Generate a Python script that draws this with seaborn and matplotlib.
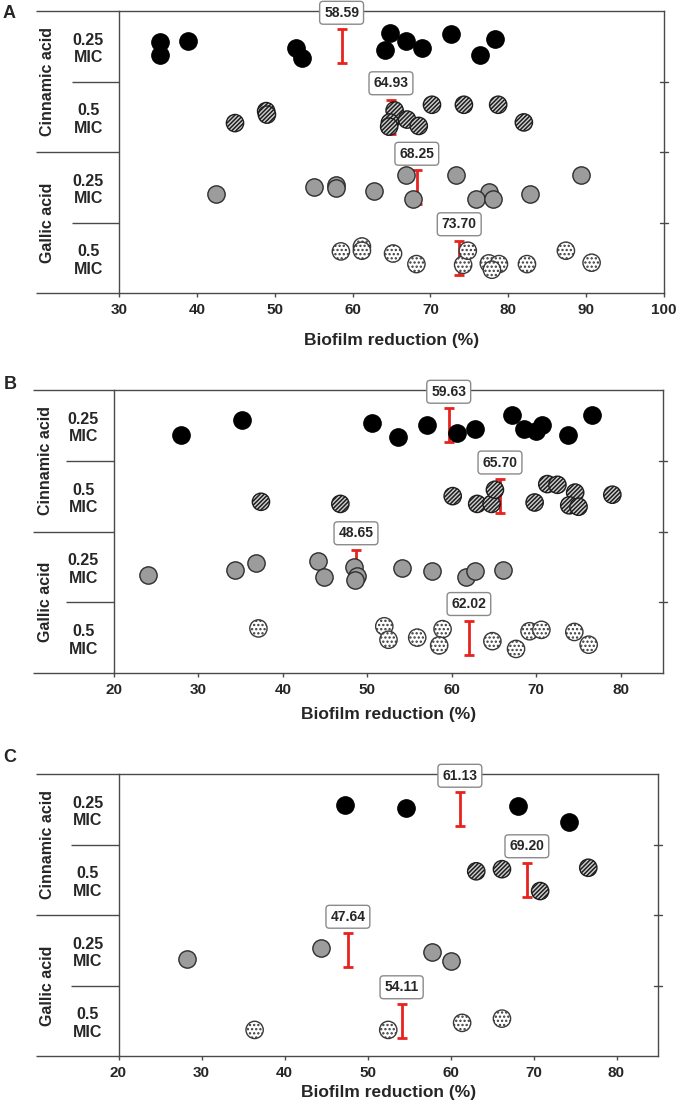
import matplotlib
matplotlib.use("Agg")
import matplotlib.pyplot as plt
from matplotlib import font_manager
import pandas as pd
import seaborn as sns

# ---- data ---------------------------------------------------------------
GROUPS = ["Cinnamic 0.25", "Cinnamic 0.5", "Gallic 0.25", "Gallic 0.5"]
ROW_LABELS = ["0.25\nMIC", "0.5\nMIC", "0.25\nMIC", "0.5\nMIC"]
ACIDS = ["Cinnamic acid", "Gallic acid"]

# panel A
a_cin_025 = [35.3, 35.3, 38.9, 52.7, 53.5, 64.8, 64.2, 66.8, 68.9, 72.6, 76.4, 78.3]
a_cin_025_jit = [-0.06, 0.13, -0.07, 0.03, 0.16, -0.19, 0.05, -0.08, 0.03, -0.17, 0.12, -0.10]
a_cin_05 = [44.9, 48.9, 49.0, 65.4, 64.8, 64.7, 67.0, 68.5, 70.2, 74.3, 78.7, 82.0]
a_cin_05_jit = [0.09, -0.08, -0.03, -0.09, 0.08, 0.14, 0.04, 0.13, -0.17, -0.17, -0.17, 0.08]
a_gal_025 = [42.4, 55.0, 57.9, 57.9, 62.7, 66.8, 67.7, 73.3, 77.5, 75.9, 78.1, 82.8, 89.4]
a_gal_025_jit = [0.10, 0.0, -0.03, 0.01, 0.06, -0.17, 0.16, -0.17, 0.07, 0.17, 0.17, 0.10, -0.18]
a_gal_05 = [58.5, 61.2, 61.2, 65.2, 68.2, 74.2, 74.8, 77.5, 78.8, 77.9, 82.4, 87.4, 90.7]
a_gal_05_jit = [-0.09, -0.16, -0.10, -0.06, 0.09, 0.10, -0.10, 0.08, 0.09, 0.17, 0.09, -0.10, 0.07]
a_means = [58.59, 64.93, 68.25, 73.70]

# panel B
b_cin_025 = [27.9, 35.2, 50.6, 53.6, 57.1, 60.6, 62.8, 67.1, 68.5, 70.0, 70.7, 73.8, 76.6]
b_cin_025_jit = [0.13, -0.07, -0.04, 0.17, 0.0, 0.11, 0.05, -0.14, 0.05, 0.08, -0.01, 0.13, -0.14]
b_cin_05 = [37.4, 46.8, 60.1, 63.0, 64.7, 65.1, 69.8, 71.3, 72.5, 74.6, 73.9, 75.0, 79.0]
b_cin_05_jit = [0.08, 0.11, 0.0, 0.11, 0.11, -0.09, 0.09, -0.17, -0.16, -0.05, 0.13, 0.15, -0.02]
b_gal_025 = [24.0, 34.3, 36.8, 44.1, 44.9, 48.4, 48.8, 48.5, 54.1, 57.6, 61.7, 62.8, 66.1]
b_gal_025_jit = [0.11, 0.05, -0.05, -0.08, 0.15, 0.0, 0.13, 0.18, 0.01, 0.06, 0.14, 0.06, 0.05]
b_gal_05 = [37.1, 52.0, 52.5, 55.9, 58.9, 58.5, 64.8, 67.6, 69.2, 70.6, 74.5, 76.2]
b_gal_05_jit = [-0.13, -0.16, 0.03, 0.0, -0.12, 0.11, 0.05, 0.16, -0.09, -0.11, -0.08, 0.10]
b_means = [59.63, 65.70, 48.65, 62.02]

# panel C
c_cin_025 = [47.3, 54.6, 68.1, 74.3]
c_cin_025_jit = [-0.06, -0.02, -0.05, 0.18]
c_cin_05 = [63.1, 66.2, 70.8, 76.6]
c_cin_05_jit = [-0.12, -0.15, 0.16, -0.17]
c_gal_025 = [28.2, 44.4, 57.8, 60.1]
c_gal_025_jit = [0.13, -0.03, 0.03, 0.15]
c_gal_05 = [36.4, 52.5, 61.4, 66.2]
c_gal_05_jit = [0.13, 0.13, 0.03, -0.03]
c_means = [61.13, 69.20, 47.64, 54.11]

A_TICKS = [30, 40, 50, 60, 70, 80, 90, 100]
BC_TICKS = [20, 30, 40, 50, 60, 70, 80]
INNER_BOUNDS = [0.5, 2.5]   # between doses, inside one acid
ACID_BOUND = 1.5            # between the two acids
BOUNDS = [0.5, 1.5, 2.5]

# ---- styling -------------------------------------------------------------
sns.set_style("white")
names = {f.name for f in font_manager.fontManager.ttflist}
BASE = "Liberation Sans" if "Liberation Sans" in names else "DejaVu Sans"
plt.rcParams["font.family"] = [BASE, "DejaVu Sans"]
plt.rcParams["hatch.linewidth"] = 1.1

SPINE = "#4a4a4a"
RED = "#e8221e"
STYLE = {
    "Cinnamic 0.25": dict(fc="black", ec="black", hatch=None),
    "Cinnamic 0.5": dict(fc="#d0d0d0", ec="#1e1e1e", hatch="////////"),
    "Gallic 0.25": dict(fc="#9c9c9c", ec="#2e2e2e", hatch=None),
    "Gallic 0.5": dict(fc="white", ec="#3a3a3a", hatch="...."),
}

W, H = 678, 1104


def make_df(values, jitters):
    rows = []
    for i, g in enumerate(GROUPS):
        for v, j in zip(values[i], jitters[i]):
            rows.append({"group": g, "row": i, "value": v, "ypos": i + j})
    return pd.DataFrame(rows)


def draw_panel(fig, box, letter, df, means, xlim, xticks, outer_left, inner_left, xlab_gap):
    left, top, right, bottom = box
    ax = fig.add_axes([left / W, 1 - bottom / H, (right - left) / W, (bottom - top) / H])
    width_px = right - left
    height_px = bottom - top
    ext = (left - outer_left) / width_px

    for g in GROUPS:
        sub = df[df["group"] == g]
        st = STYLE[g]
        sns.scatterplot(data=sub, x="value", y="ypos", s=155, color=st["fc"],
                        edgecolor=st["ec"], linewidth=1.0, ax=ax, legend=False, zorder=3)
        if st["hatch"]:
            ax.collections[-1].set_hatch(st["hatch"])

    for i, m in enumerate(means):
        ax.errorbar(m, i, yerr=0.24, fmt="none", ecolor=RED, elinewidth=2,
                    capsize=3.3, capthick=2, zorder=2)
        ax.text(m, i - 0.475, f"{m:.2f}", ha="center", va="center", fontsize=10,
                fontweight="bold", zorder=6, clip_on=False,
                bbox=dict(boxstyle="round,pad=0.32,rounding_size=0.25", fc="white",
                          ec="#8a8a8a", lw=1))

    ax.set_xlim(*xlim)
    ax.set_ylim(3.5, -0.5)
    ax.set_xticks(xticks)
    ax.set_xticklabels([str(t) for t in xticks], fontsize=11, fontweight="bold")
    ax.set_yticks(range(4))
    ax.set_yticklabels(ROW_LABELS, fontsize=11.5, fontweight="bold")
    for lab in ax.get_yticklabels():
        lab.set_horizontalalignment("center")
        lab.set_multialignment("center")
    ax.set_yticks(INNER_BOUNDS, minor=True)
    ax.tick_params(axis="y", which="major", left=False, length=0, pad=22)
    ax.tick_params(axis="y", which="minor", left=True, right=False,
                   length=(left - inner_left) * 0.72, width=1, color=SPINE,
                   direction="out")
    ax.tick_params(axis="x", which="major", bottom=True, length=3, width=1,
                   color=SPINE, direction="out", pad=4)
    ax.set_xlabel("Biofilm reduction (%)", fontsize=12.5, fontweight="bold")
    ax.xaxis.label.set_va("center")
    ax.xaxis.set_label_coords(0.5, -xlab_gap / height_px)
    ax.set_ylabel("")

    for s in ax.spines.values():
        s.set_color(SPINE)
        s.set_linewidth(1)

    # short ticks crossing the right spine at the row boundaries
    for b in BOUNDS:
        ax.plot([1 - 4 / width_px, 1 + 4 / width_px], [b, b],
                transform=ax.get_yaxis_transform(), color=SPINE, lw=1, clip_on=False)

    # separator between the acids and top/bottom frame lines span the label column
    ax.plot([-ext, 0], [ACID_BOUND, ACID_BOUND], transform=ax.get_yaxis_transform(),
            color=SPINE, lw=1, clip_on=False, solid_capstyle="butt")
    for yv in (0, 1):
        ax.plot([-ext, 0], [yv, yv], transform=ax.transAxes, color=SPINE, lw=1,
                clip_on=False, solid_capstyle="butt")

    lab_x = -(ext - 12 / width_px)
    ax.text(lab_x, 0.75, ACIDS[0], rotation=90, transform=ax.transAxes, ha="center",
            va="center", fontsize=11.5, fontweight="bold")
    ax.text(lab_x, 0.25, ACIDS[1], rotation=90, transform=ax.transAxes, ha="center",
            va="center", fontsize=11.5, fontweight="bold")

    fig.text(letter[1] / W, 1 - letter[2] / H, letter[0], ha="center", va="center",
             fontsize=13, fontweight="bold")
    return ax


fig = plt.figure(figsize=(W / 100, H / 100), dpi=100)

df_a = make_df([a_cin_025, a_cin_05, a_gal_025, a_gal_05],
               [a_cin_025_jit, a_cin_05_jit, a_gal_025_jit, a_gal_05_jit])
df_b = make_df([b_cin_025, b_cin_05, b_gal_025, b_gal_05],
               [b_cin_025_jit, b_cin_05_jit, b_gal_025_jit, b_gal_05_jit])
df_c = make_df([c_cin_025, c_cin_05, c_gal_025, c_gal_05],
               [c_cin_025_jit, c_cin_05_jit, c_gal_025_jit, c_gal_05_jit])

draw_panel(fig, (119, 11, 664, 293), ("A", 9, 13), df_a, a_means, (30, 100), A_TICKS,
           36, 72, 47)
draw_panel(fig, (114, 390, 663, 673), ("B", 10, 385), df_b, b_means, (20, 85), BC_TICKS,
           33, 66, 42)
draw_panel(fig, (118.5, 774, 658, 1056), ("C", 10, 757), df_c, c_means, (20, 85), BC_TICKS,
           36, 70, 37)

fig.savefig("out.png", dpi=100)
